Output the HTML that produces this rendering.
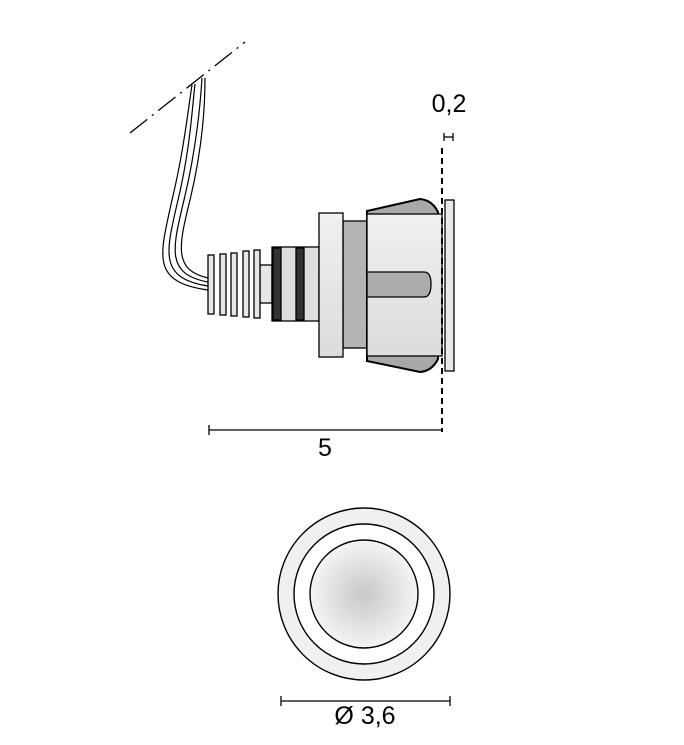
<!DOCTYPE html>
<html><head><style>body{margin:0;background:#fff}svg{display:block}</style></head><body>
<svg width="684" height="745" viewBox="0 0 684 745" xmlns="http://www.w3.org/2000/svg">
<defs>
<radialGradient id="g" cx="0.5" cy="0.5" r="0.5"><stop offset="0" stop-color="#c8c8c8"/><stop offset="1" stop-color="#f4f4f4"/></radialGradient>
<linearGradient id="b" x1="0" y1="0" x2="0" y2="1"><stop offset="0" stop-color="#f0f0f0"/><stop offset="1" stop-color="#dcdcdc"/></linearGradient>
</defs>
<line x1="130" y1="133" x2="245" y2="42" stroke="#000" stroke-width="1.3" stroke-dasharray="22,6,2,6"/>
<g fill="none" stroke="#000" stroke-width="1.2">
<path d="M208 290 C150 282,160 255,172 200 C184 150,188 110,192 85"/>
<path d="M208 286 C158 278,166 252,178 200 C190 150,192 110,195 84"/>
<path d="M208 282 C166 274,172 250,184 200 C196 150,200 110,202 78"/>
<path d="M208 278 C174 270,178 248,190 200 C202 150,205 110,205 78"/>
</g>
<g fill="#e6e6e6" stroke="#000" stroke-width="1.3">
<rect x="260" y="265" width="12" height="38"/>
<rect x="208" y="255" width="6" height="59"/>
<rect x="220" y="254" width="6" height="61"/>
<rect x="231" y="253" width="6" height="63"/>
<rect x="243" y="251" width="6" height="66"/>
<rect x="254" y="250" width="6" height="68"/>
<rect x="272" y="247" width="47" height="74" fill="#dedede"/>
<rect x="273" y="248" width="8" height="72" fill="#333"/>
<rect x="296" y="248" width="8" height="72" fill="#333"/>
<rect x="343" y="221" width="24" height="127" fill="#b4b4b4"/>
<rect x="319" y="213" width="24" height="144" fill="url(#b)"/>
<path d="M367 211 L420 199 Q432 200 438 212 L438 359 Q432 371 420 372 L367 361 Z" fill="#a8a8a8" stroke-width="2"/>
<rect x="367" y="214" width="75" height="142" fill="url(#b)"/>
<path d="M367 272 L424 272 Q431 272 431 284 Q431 297 424 297 L367 297 Z" fill="#acacac"/>
<rect x="445" y="200" width="9" height="171" fill="#e8e8e8"/>
</g>
<line x1="442" y1="148" x2="442" y2="432" stroke="#000" stroke-width="2" stroke-dasharray="6,4"/>
<line x1="444" y1="137" x2="453" y2="137" stroke="#000" stroke-width="1.3"/>
<line x1="444" y1="133" x2="444" y2="141" stroke="#000" stroke-width="1.3"/>
<line x1="453" y1="133" x2="453" y2="141" stroke="#000" stroke-width="1.3"/>
<text x="449" y="112" font-family="Liberation Sans, sans-serif" font-size="25" text-anchor="middle">0,2</text>
<line x1="209" y1="430" x2="442" y2="430" stroke="#000" stroke-width="1.3"/>
<line x1="209" y1="425" x2="209" y2="435" stroke="#000" stroke-width="1.3"/>
<text x="325" y="456" font-family="Liberation Sans, sans-serif" font-size="25" text-anchor="middle">5</text>
<circle cx="364" cy="594" r="86" fill="#f0f0f0" stroke="#000" stroke-width="1.4"/>
<circle cx="364" cy="594" r="70" fill="#fff" stroke="#000" stroke-width="1.4"/>
<circle cx="364" cy="594" r="54" fill="url(#g)" stroke="#000" stroke-width="1.4"/>
<line x1="281" y1="701" x2="450" y2="701" stroke="#000" stroke-width="1.3"/>
<line x1="281" y1="696" x2="281" y2="706" stroke="#000" stroke-width="1.3"/>
<line x1="450" y1="696" x2="450" y2="706" stroke="#000" stroke-width="1.3"/>
<text x="365" y="724" font-family="Liberation Sans, sans-serif" font-size="25" text-anchor="middle">Ø 3,6</text>
</svg>
</body></html>
